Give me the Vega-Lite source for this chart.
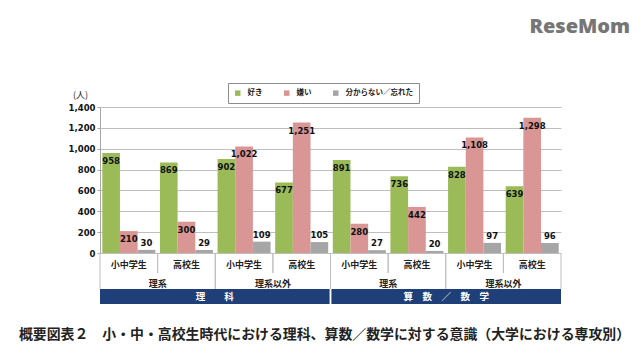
{
  "$schema": "https://vega.github.io/schema/vega-lite/v6.json",
  "background": "white",
  "padding": {"left": 18, "top": 16, "right": 5, "bottom": 5},
  "title": {"text": "ReseMom", "anchor": "end", "dx": 0, "fontSize": 20, "font": "Open Sans", "fontWeight": 800, "color": "#767676", "offset": 46},
  "spacing": 0,
  "bounds": "flush",
  "config": {"view": {"stroke": null}, "font": "Noto Sans CJK JP"},
  "datasets": {
    "survey": [
      {"subject": "理　　科", "major": "理系", "pair": "理科・理系", "level": "小中学生", "group": "理科・理系・小中学生", "series": "好き", "value": 958},
      {"subject": "理　　科", "major": "理系", "pair": "理科・理系", "level": "小中学生", "group": "理科・理系・小中学生", "series": "嫌い", "value": 210},
      {"subject": "理　　科", "major": "理系", "pair": "理科・理系", "level": "小中学生", "group": "理科・理系・小中学生", "series": "分からない／忘れた", "value": 30},
      {"subject": "理　　科", "major": "理系", "pair": "理科・理系", "level": "高校生", "group": "理科・理系・高校生", "series": "好き", "value": 869},
      {"subject": "理　　科", "major": "理系", "pair": "理科・理系", "level": "高校生", "group": "理科・理系・高校生", "series": "嫌い", "value": 300},
      {"subject": "理　　科", "major": "理系", "pair": "理科・理系", "level": "高校生", "group": "理科・理系・高校生", "series": "分からない／忘れた", "value": 29},
      {"subject": "理　　科", "major": "理系以外", "pair": "理科・理系以外", "level": "小中学生", "group": "理科・理系以外・小中学生", "series": "好き", "value": 902},
      {"subject": "理　　科", "major": "理系以外", "pair": "理科・理系以外", "level": "小中学生", "group": "理科・理系以外・小中学生", "series": "嫌い", "value": 1022},
      {"subject": "理　　科", "major": "理系以外", "pair": "理科・理系以外", "level": "小中学生", "group": "理科・理系以外・小中学生", "series": "分からない／忘れた", "value": 109},
      {"subject": "理　　科", "major": "理系以外", "pair": "理科・理系以外", "level": "高校生", "group": "理科・理系以外・高校生", "series": "好き", "value": 677},
      {"subject": "理　　科", "major": "理系以外", "pair": "理科・理系以外", "level": "高校生", "group": "理科・理系以外・高校生", "series": "嫌い", "value": 1251},
      {"subject": "理　　科", "major": "理系以外", "pair": "理科・理系以外", "level": "高校生", "group": "理科・理系以外・高校生", "series": "分からない／忘れた", "value": 105},
      {"subject": "算　数　／　数　学", "major": "理系", "pair": "算数・理系", "level": "小中学生", "group": "算数・理系・小中学生", "series": "好き", "value": 891},
      {"subject": "算　数　／　数　学", "major": "理系", "pair": "算数・理系", "level": "小中学生", "group": "算数・理系・小中学生", "series": "嫌い", "value": 280},
      {"subject": "算　数　／　数　学", "major": "理系", "pair": "算数・理系", "level": "小中学生", "group": "算数・理系・小中学生", "series": "分からない／忘れた", "value": 27},
      {"subject": "算　数　／　数　学", "major": "理系", "pair": "算数・理系", "level": "高校生", "group": "算数・理系・高校生", "series": "好き", "value": 736},
      {"subject": "算　数　／　数　学", "major": "理系", "pair": "算数・理系", "level": "高校生", "group": "算数・理系・高校生", "series": "嫌い", "value": 442},
      {"subject": "算　数　／　数　学", "major": "理系", "pair": "算数・理系", "level": "高校生", "group": "算数・理系・高校生", "series": "分からない／忘れた", "value": 20},
      {"subject": "算　数　／　数　学", "major": "理系以外", "pair": "算数・理系以外", "level": "小中学生", "group": "算数・理系以外・小中学生", "series": "好き", "value": 828},
      {"subject": "算　数　／　数　学", "major": "理系以外", "pair": "算数・理系以外", "level": "小中学生", "group": "算数・理系以外・小中学生", "series": "嫌い", "value": 1108},
      {"subject": "算　数　／　数　学", "major": "理系以外", "pair": "算数・理系以外", "level": "小中学生", "group": "算数・理系以外・小中学生", "series": "分からない／忘れた", "value": 97},
      {"subject": "算　数　／　数　学", "major": "理系以外", "pair": "算数・理系以外", "level": "高校生", "group": "算数・理系以外・高校生", "series": "好き", "value": 639},
      {"subject": "算　数　／　数　学", "major": "理系以外", "pair": "算数・理系以外", "level": "高校生", "group": "算数・理系以外・高校生", "series": "嫌い", "value": 1298},
      {"subject": "算　数　／　数　学", "major": "理系以外", "pair": "算数・理系以外", "level": "高校生", "group": "算数・理系以外・高校生", "series": "分からない／忘れた", "value": 96}
    ]
  },
  "vconcat": [
    {
      "width": 461,
      "height": 146,
      "data": {"name": "survey"},
      "encoding": {
        "x": {"field": "group", "type": "nominal", "sort": null, "axis": null, "scale": {"paddingInner": 0.08, "paddingOuter": 0.04}},
        "xOffset": {"field": "series", "type": "nominal", "sort": ["好き", "嫌い", "分からない／忘れた"], "scale": {"paddingInner": 0, "paddingOuter": 0}},
        "y": {"field": "value", "type": "quantitative", "scale": {"domain": [0, 1400]},
          "axis": {"values": [0, 200, 400, 600, 800, 1000, 1200, 1400], "format": ",d", "title": "(人)", "titleAngle": 0, "titleX": -20, "titleY": -13, "titleAlign": "center", "titleBaseline": "middle", "titleFontSize": 9, "titleFontWeight": "normal", "titleFont": "Noto Sans CJK JP", "titleColor": "#222", "labelFont": "DejaVu Sans", "labelFontSize": 8.5, "labelFontWeight": "bold", "labelColor": "#111", "domainColor": "#A6A6A6", "tickColor": "#A6A6A6", "tickSize": 3, "gridColor": "#BFBFBF", "labelPadding": 2}}
      },
      "layer": [
        {
          "mark": {"type": "bar"},
          "encoding": {
            "color": {"field": "series", "type": "nominal", "sort": ["好き", "嫌い", "分からない／忘れた"],
              "scale": {"domain": ["好き", "嫌い", "分からない／忘れた"], "range": ["#9BBB59", "#D99694", "#A6A6A6"]},
              "legend": {"orient": "none", "legendX": 128, "legendY": -24, "direction": "horizontal", "title": null, "symbolType": "square", "symbolSize": 30, "symbolStrokeWidth": 0, "labelFontSize": 7.5, "labelFont": "Noto Sans CJK JP", "labelFontWeight": "bold", "labelColor": "#222", "strokeColor": "#8C8C8C", "padding": 6, "columnPadding": 20, "labelOffset": 6}
            }
          }
        },
        {
          "transform": [{"filter": "datum.series !== '分からない／忘れた'"}],
          "mark": {"type": "text", "baseline": "top", "dy": 4, "font": "DejaVu Sans", "fontWeight": "bold", "fontSize": 8.5, "color": "#111"},
          "encoding": {"text": {"field": "value", "type": "quantitative", "format": ",d"}}
        },
        {
          "transform": [{"filter": "datum.series === '分からない／忘れた'"}],
          "mark": {"type": "text", "baseline": "bottom", "dy": -2, "font": "DejaVu Sans", "fontWeight": "bold", "fontSize": 8.5, "color": "#111"},
          "encoding": {"text": {"field": "value", "type": "quantitative", "format": ",d"}}
        }
      ]
    },
    {
      "width": 461,
      "height": 20,
      "data": {"name": "survey"},
      "transform": [{"filter": "datum.series === '好き'"}],
      "encoding": {"x": {"field": "group", "type": "nominal", "sort": null, "axis": null, "scale": {"paddingInner": 0, "paddingOuter": 0}}},
      "layer": [
        {"mark": {"type": "text", "fontSize": 9, "fontWeight": "bold", "color": "#222", "dy": 2}, "encoding": {"text": {"field": "level"}}},
        {"mark": {"type": "rule", "color": "#BFBFBF"}, "encoding": {"x": {"field": "group", "type": "nominal", "sort": null, "bandPosition": 0}}},
        {"mark": {"type": "rule", "color": "#BFBFBF"}, "encoding": {"x": {"field": "group", "type": "nominal", "sort": null, "bandPosition": 1}}}
      ]
    },
    {
      "width": 461,
      "height": 16,
      "data": {"name": "survey"},
      "transform": [{"filter": "datum.series === '好き' && datum.level === '小中学生'"}],
      "encoding": {"x": {"field": "pair", "type": "nominal", "sort": null, "axis": null, "scale": {"paddingInner": 0, "paddingOuter": 0}}},
      "layer": [
        {"mark": {"type": "text", "fontSize": 9, "fontWeight": "bold", "color": "#222", "dy": 3}, "encoding": {"text": {"field": "major"}}},
        {"mark": {"type": "rule", "color": "#BFBFBF"}, "encoding": {"x": {"field": "pair", "type": "nominal", "sort": null, "bandPosition": 0}}},
        {"mark": {"type": "rule", "color": "#BFBFBF"}, "encoding": {"x": {"field": "pair", "type": "nominal", "sort": null, "bandPosition": 1}}}
      ]
    },
    {
      "width": 461,
      "height": 15,
      "title": {"text": "概要図表２　小・中・高校生時代における理科、算数／数学に対する意識（大学における専攻別）", "orient": "bottom", "offset": 24, "fontSize": 13.9, "fontWeight": "bold", "font": "Noto Sans CJK JP", "color": "#222", "dx": -6},
      "data": {"name": "survey"},
      "transform": [{"filter": "datum.series === '好き' && datum.level === '小中学生' && datum.major === '理系'"}],
      "encoding": {"x": {"field": "subject", "type": "nominal", "sort": null, "axis": null, "scale": {"paddingInner": 0.008, "paddingOuter": 0}}},
      "layer": [
        {"mark": {"type": "rect", "color": "#1F3F78"}, "encoding": {}},
        {"mark": {"type": "text", "fontSize": 9.5, "fontWeight": "bold", "color": "white"}, "encoding": {"text": {"field": "subject"}}}
      ]
    }
  ]
}
